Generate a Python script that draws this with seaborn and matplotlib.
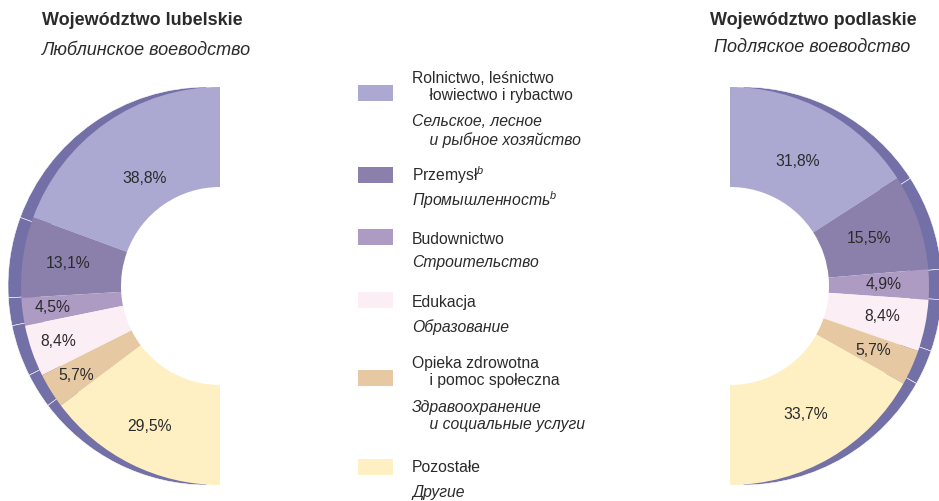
import numpy as np
import matplotlib
matplotlib.use("Agg")
import matplotlib.pyplot as plt
import seaborn as sns

# data
categories_pl = ["Rolnictwo, leśnictwo\n    łowiectwo i rybactwo", "Przemysł$^{b}$", "Budownictwo",
                 "Edukacja", "Opieka zdrowotna\n    i pomoc społeczna", "Pozostałe"]
categories_ru = ["Сельское, лесное\n    и рыбное хозяйство", "Промышленность$^{b}$", "Строительство",
                 "Образование", "Здравоохранение\n    и социальные услуги", "Другие"]
lubelskie = [38.8, 13.1, 4.5, 8.4, 5.7, 29.5]
podlaskie = [31.8, 15.5, 4.9, 8.4, 5.7, 33.7]
colors = ["#ABA9D2", "#8B80AB", "#AE9BC3", "#FCEEF5", "#E6C9A3", "#FEF0C2"]
rim_color = "#7370A8"

sns.set_style("white")
plt.rcParams['font.family'] = ['Liberation Sans Narrow', 'Liberation Sans', 'DejaVu Sans']
plt.rcParams['mathtext.fontset'] = 'custom'
plt.rcParams['mathtext.it'] = 'Liberation Sans:italic'
plt.rcParams['mathtext.rm'] = 'Liberation Sans'
txt = "#2b2b2b"

fig = plt.figure(figsize=(9.39, 5.01), dpi=100)
ax = fig.add_axes([0, 0, 1, 1])

R = 199
cy = 501 - 286


def half_donut(values, cx, shift, counterclock, label_r):
    total = sum(values)
    # darker rim behind, slightly offset
    ax.pie(values + [total], center=(cx + shift, cy), radius=R, startangle=90,
           counterclock=counterclock, colors=[rim_color] * len(values) + ["none"],
           wedgeprops=dict(width=32, edgecolor="white", linewidth=0.4), normalize=True)
    wedges, _ = ax.pie(values + [total], center=(cx, cy), radius=R, startangle=90,
                       counterclock=counterclock, colors=colors + ["none"],
                       wedgeprops=dict(width=100, linewidth=0), normalize=True)
    for w, v, rf in zip(wedges, values, label_r):
        ang = np.deg2rad((w.theta1 + w.theta2) / 2)
        ax.text(cx + rf * R * np.cos(ang), cy + rf * R * np.sin(ang),
                f"{v:.1f}%".replace(".", ","), ha="center", va="center",
                fontsize=11.3, color=txt)


half_donut(lubelskie, 220, -13, True, [0.66, 0.77, 0.85, 0.86, 0.85, 0.79])
half_donut(podlaskie, 730, 13, False, [0.71, 0.74, 0.77, 0.78, 0.79, 0.75])

ax.set_xlim(0, 939)
ax.set_ylim(0, 501)
ax.set_aspect("equal")
ax.axis("off")

# titles
ax.text(142, 501 - 20, "Województwo lubelskie", ha="center", va="center",
        fontsize=13, fontweight="bold", color=txt)
ax.text(147, 501 - 50, "Люблинское воеводство", ha="center", va="center",
        fontsize=13, style="italic", color=txt)
ax.text(813, 501 - 20, "Województwo podlaskie", ha="center", va="center",
        fontsize=13, fontweight="bold", color=txt)
ax.text(812, 501 - 47, "Подляское воеводство", ha="center", va="center",
        fontsize=13, style="italic", color=txt)

# legend
patch_y = [93, 175, 237, 300, 378, 467]
pl_y = [87, 175, 239, 303, 372, 467]
ru_y = [131, 200, 263, 327, 416, 493]
for c, pl, ru, py, ty1, ty2 in zip(colors, categories_pl, categories_ru, patch_y, pl_y, ru_y):
    ax.add_patch(plt.Rectangle((358, 501 - py - 8), 35, 16, color=c, lw=0))
    ax.text(412, 501 - ty1, pl, ha="left", va="center", fontsize=11.3, color=txt,
            linespacing=1.2)
    ax.text(412, 501 - ty2, ru, ha="left", va="center", fontsize=11.3, color=txt,
            style="italic", linespacing=1.2)

fig.savefig("out.png", dpi=100)
